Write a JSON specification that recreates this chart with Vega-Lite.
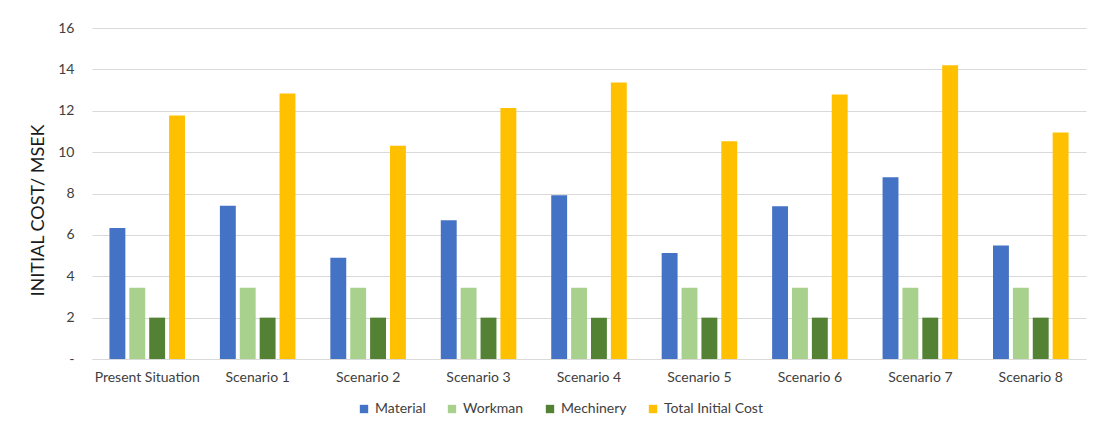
{
  "$schema": "https://vega.github.io/schema/vega-lite/v6.json",
  "autosize": "none",
  "width": 994,
  "height": 331,
  "padding": {"left": 92, "top": 28, "right": 7, "bottom": 68},
  "background": "white",
  "data": {
    "values": [
      {"case": "Present Situation", "item": "Material", "cost": 6.33},
      {"case": "Present Situation", "item": "Workman", "cost": 3.44},
      {"case": "Present Situation", "item": "Mechinery", "cost": 2.0},
      {"case": "Present Situation", "item": "Total Initial Cost", "cost": 11.77},
      {"case": "Scenario 1", "item": "Material", "cost": 7.41},
      {"case": "Scenario 1", "item": "Workman", "cost": 3.44},
      {"case": "Scenario 1", "item": "Mechinery", "cost": 2.0},
      {"case": "Scenario 1", "item": "Total Initial Cost", "cost": 12.83},
      {"case": "Scenario 2", "item": "Material", "cost": 4.89},
      {"case": "Scenario 2", "item": "Workman", "cost": 3.44},
      {"case": "Scenario 2", "item": "Mechinery", "cost": 2.0},
      {"case": "Scenario 2", "item": "Total Initial Cost", "cost": 10.31},
      {"case": "Scenario 3", "item": "Material", "cost": 6.71},
      {"case": "Scenario 3", "item": "Workman", "cost": 3.44},
      {"case": "Scenario 3", "item": "Mechinery", "cost": 2.0},
      {"case": "Scenario 3", "item": "Total Initial Cost", "cost": 12.13},
      {"case": "Scenario 4", "item": "Material", "cost": 7.91},
      {"case": "Scenario 4", "item": "Workman", "cost": 3.44},
      {"case": "Scenario 4", "item": "Mechinery", "cost": 2.0},
      {"case": "Scenario 4", "item": "Total Initial Cost", "cost": 13.36},
      {"case": "Scenario 5", "item": "Material", "cost": 5.12},
      {"case": "Scenario 5", "item": "Workman", "cost": 3.44},
      {"case": "Scenario 5", "item": "Mechinery", "cost": 2.0},
      {"case": "Scenario 5", "item": "Total Initial Cost", "cost": 10.53},
      {"case": "Scenario 6", "item": "Material", "cost": 7.38},
      {"case": "Scenario 6", "item": "Workman", "cost": 3.44},
      {"case": "Scenario 6", "item": "Mechinery", "cost": 2.0},
      {"case": "Scenario 6", "item": "Total Initial Cost", "cost": 12.79},
      {"case": "Scenario 7", "item": "Material", "cost": 8.78},
      {"case": "Scenario 7", "item": "Workman", "cost": 3.44},
      {"case": "Scenario 7", "item": "Mechinery", "cost": 2.0},
      {"case": "Scenario 7", "item": "Total Initial Cost", "cost": 14.2},
      {"case": "Scenario 8", "item": "Material", "cost": 5.49},
      {"case": "Scenario 8", "item": "Workman", "cost": 3.44},
      {"case": "Scenario 8", "item": "Mechinery", "cost": 2.0},
      {"case": "Scenario 8", "item": "Total Initial Cost", "cost": 10.95}
    ]
  },
  "mark": {"type": "bar"},
  "encoding": {
    "x": {
      "field": "case",
      "type": "nominal",
      "sort": null,
      "scale": {"paddingInner": 0.28, "paddingOuter": 0.14},
      "axis": {
        "title": null,
        "labelAngle": 0,
        "labelFont": "Lato",
        "labelFontSize": 14,
        "labelColor": "#404040",
        "labelPadding": 11,
        "ticks": false,
        "domainColor": "#d9d9d9",
        "domainWidth": 1.2
      }
    },
    "xOffset": {
      "field": "item",
      "type": "nominal",
      "sort": ["Material", "Workman", "Mechinery", "Total Initial Cost"],
      "scale": {"paddingInner": 0.2, "paddingOuter": 0.1}
    },
    "y": {
      "field": "cost",
      "type": "quantitative",
      "scale": {"domain": [0, 16]},
      "axis": {
        "title": "INITIAL COST/ MSEK",
        "titleFont": "Lato",
        "titleFontSize": 18,
        "titleFontWeight": "normal",
        "titleColor": "#1a1a1a",
        "titleX": -54,
        "titleY": 182,
        "titleAlign": "center",
        "titleBaseline": "middle",
        "titleAngle": -90,
        "values": [0, 2, 4, 6, 8, 10, 12, 14, 16],
        "labelExpr": "datum.value == 0 ? '-' : datum.label",
        "labelFont": "Lato",
        "labelFontSize": 14,
        "labelColor": "#404040",
        "labelPadding": 18,
        "ticks": false,
        "domain": false,
        "gridColor": "#d9d9d9",
        "gridWidth": 1.2
      }
    },
    "color": {
      "field": "item",
      "type": "nominal",
      "sort": ["Material", "Workman", "Mechinery", "Total Initial Cost"],
      "scale": {
        "domain": ["Material", "Workman", "Mechinery", "Total Initial Cost"],
        "range": ["#4472C4", "#A9D18E", "#548235", "#FFC000"]
      },
      "legend": {
        "title": null,
        "orient": "none",
        "direction": "horizontal",
        "legendX": 265,
        "legendY": 374,
        "symbolType": "square",
        "symbolSize": 70,
        "symbolStrokeWidth": 0,
        "labelFont": "Lato",
        "labelFontSize": 14,
        "labelColor": "#404040",
        "labelOffset": 4,
        "columnPadding": 19
      }
    }
  },
  "config": {
    "view": {"stroke": null}
  }
}
